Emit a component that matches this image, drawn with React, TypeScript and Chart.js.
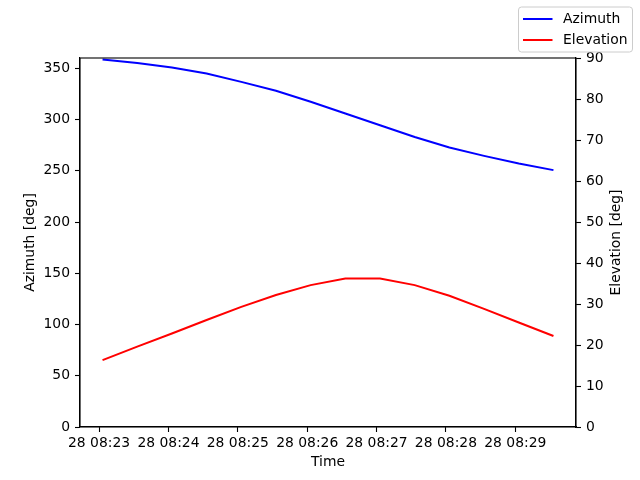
import React, { useEffect, useRef } from 'react';
import { Chart, registerables } from 'chart.js';

Chart.register(...registerables);

// seconds since 28 08:23:00
const timeSec = [3, 33, 63, 93, 123, 153, 183, 213, 243, 273, 303, 333, 363, 393];
const azimuth = [358.5, 355.2, 350.7, 344.8, 336.7, 328.0, 317.3, 305.8, 294.4, 283.0, 272.7, 264.5, 257.0, 250.6];
const elevation = [16.3, 19.6, 22.8, 26.1, 29.3, 32.2, 34.6, 36.2, 36.2, 34.6, 32.0, 28.8, 25.5, 22.2];
const xTickSec = [0, 60, 120, 180, 240, 300, 360];
const xTickLabels = ['28 08:23', '28 08:24', '28 08:25', '28 08:26', '28 08:27', '28 08:28', '28 08:29'];
const azTicks = [0, 50, 100, 150, 200, 250, 300, 350];
const elTicks = [0, 10, 20, 30, 40, 50, 60, 70, 80, 90];

const FONT = 'DejaVu Sans';
const FS = 13.9;

const framePlugin = {
  id: 'mplExtras',
  afterDraw(chart: any) {
    const { ctx, chartArea } = chart;
    ctx.save();
    // frame
    ctx.strokeStyle = '#000';
    ctx.lineWidth = 1.1;
    ctx.strokeRect(chartArea.left, chartArea.top, chartArea.right - chartArea.left, chartArea.bottom - chartArea.top);

    // right axis title, reading bottom-to-top
    ctx.fillStyle = '#000';
    ctx.font = `${FS}px "${FONT}"`;
    ctx.textAlign = 'center';
    ctx.textBaseline = 'middle';
    ctx.translate(616, (chartArea.top + chartArea.bottom) / 2);
    ctx.rotate(-Math.PI / 2);
    ctx.fillText('Elevation [deg]', 0, 0);
    ctx.setTransform(1, 0, 0, 1, 0, 0);
    ctx.scale(chart.currentDevicePixelRatio || 1, chart.currentDevicePixelRatio || 1);

    // legend
    const bx = 518.5, by = 7, bw = 114, bh = 45, r = 3;
    ctx.beginPath();
    ctx.moveTo(bx + r, by);
    ctx.lineTo(bx + bw - r, by);
    ctx.quadraticCurveTo(bx + bw, by, bx + bw, by + r);
    ctx.lineTo(bx + bw, by + bh - r);
    ctx.quadraticCurveTo(bx + bw, by + bh, bx + bw - r, by + bh);
    ctx.lineTo(bx + r, by + bh);
    ctx.quadraticCurveTo(bx, by + bh, bx, by + bh - r);
    ctx.lineTo(bx, by + r);
    ctx.quadraticCurveTo(bx, by, bx + r, by);
    ctx.closePath();
    ctx.fillStyle = 'rgba(255,255,255,0.8)';
    ctx.fill();
    ctx.strokeStyle = '#cccccc';
    ctx.lineWidth = 1;
    ctx.stroke();

    chart.data.datasets.forEach((ds: any, i: number) => {
      const y = 19 + i * 21;
      ctx.beginPath();
      ctx.moveTo(523, y);
      ctx.lineTo(552.5, y);
      ctx.strokeStyle = ds.borderColor;
      ctx.lineWidth = 2;
      ctx.stroke();
      ctx.fillStyle = '#000';
      ctx.textAlign = 'left';
      ctx.textBaseline = 'middle';
      ctx.font = `${FS}px "${FONT}"`;
      ctx.fillText(ds.label, 563, y + 0.5);
    });
    ctx.restore();
  },
};

const tickGrid = {
  display: true,
  drawOnChartArea: false,
  drawTicks: true,
  tickLength: 5,
  tickColor: '#000',
  tickWidth: 1.1,
};

export default function App() {
  const ref = useRef<HTMLCanvasElement>(null);
  useEffect(() => {
    document.body.style.margin = '0';
    const chart = new Chart(ref.current as HTMLCanvasElement, {
      type: 'line',
      data: {
        datasets: [
          {
            label: 'Azimuth',
            data: timeSec.map((t, i) => ({ x: t, y: azimuth[i] })),
            borderColor: '#0000ff',
            backgroundColor: '#0000ff',
            borderWidth: 2,
            pointRadius: 0,
            tension: 0,
            yAxisID: 'yL',
          },
          {
            label: 'Elevation',
            data: timeSec.map((t, i) => ({ x: t, y: elevation[i] })),
            borderColor: '#ff0000',
            backgroundColor: '#ff0000',
            borderWidth: 2,
            pointRadius: 0,
            tension: 0,
            yAxisID: 'yR',
          },
        ],
      },
      options: {
        responsive: false,
        animation: false,
        layout: { padding: { top: 58, left: 0, right: 0, bottom: 0 } },
        plugins: { legend: { display: false }, tooltip: { enabled: false } },
        scales: {
          x: {
            type: 'linear',
            min: -16.5,
            max: 412.5,
            afterBuildTicks: (s: any) => {
              s.ticks = xTickSec.map((v) => ({ value: v }));
            },
            afterFit: (s: any) => {
              s.height = 53;
            },
            ticks: {
              autoSkip: false,
              maxRotation: 0,
              minRotation: 0,
              padding: 3,
              color: '#000',
              font: { family: FONT, size: FS },
              callback: (v: any) => {
                const i = xTickSec.indexOf(Number(v));
                return i >= 0 ? xTickLabels[i] : '';
              },
            },
            grid: tickGrid,
            border: { display: true, color: '#000', width: 1.1 },
            title: {
              display: true,
              text: 'Time',
              color: '#000',
              font: { family: FONT, size: FS },
              padding: { top: 0, bottom: 9.5 },
            },
          },
          yL: {
            type: 'linear',
            position: 'left',
            min: 0,
            max: 360,
            afterBuildTicks: (s: any) => {
              s.ticks = azTicks.map((v) => ({ value: v }));
            },
            afterFit: (s: any) => {
              s.width = 80;
            },
            ticks: {
              padding: 5,
              color: '#000',
              font: { family: FONT, size: FS },
              callback: (v: any) => String(v),
            },
            grid: tickGrid,
            border: { display: true, color: '#000', width: 1.1 },
            title: {
              display: true,
              text: 'Azimuth [deg]',
              color: '#000',
              font: { family: FONT, size: FS },
              padding: { top: 22, bottom: 0 },
            },
          },
          yR: {
            type: 'linear',
            position: 'right',
            min: 0,
            max: 90,
            afterBuildTicks: (s: any) => {
              s.ticks = elTicks.map((v) => ({ value: v }));
            },
            afterFit: (s: any) => {
              s.width = 64;
            },
            ticks: {
              padding: 5,
              color: '#000',
              font: { family: FONT, size: FS },
              callback: (v: any) => String(v),
            },
            grid: tickGrid,
            border: { display: true, color: '#000', width: 1.1 },
          },
        },
      },
      plugins: [framePlugin],
    } as any);
    return () => chart.destroy();
  }, []);
  return (
    <div style={{ width: 640, height: 480, background: '#fff' }}>
      <canvas ref={ref} width={640} height={480} style={{ display: 'block' }} />
    </div>
  );
}
